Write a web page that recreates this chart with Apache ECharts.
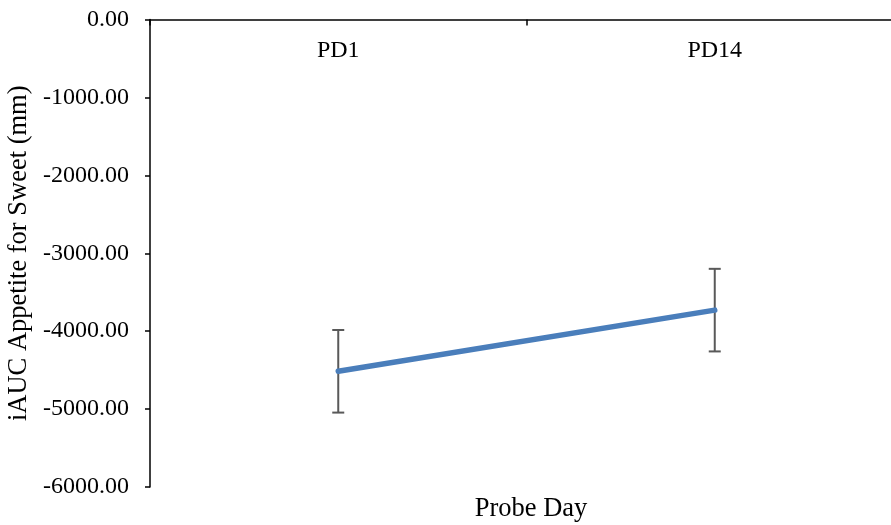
<!DOCTYPE html>
<html>
<head>
<meta charset="utf-8">
<script src="https://cdn.jsdelivr.net/npm/echarts@6/dist/echarts.min.js"></script>
<style>
  html, body { margin: 0; padding: 0; background: #ffffff; }
  #chart { width: 891px; height: 525px; }
</style>
</head>
<body>
<div id="chart"></div>
<script>
// Probe days and mean iAUC appetite for sweet with standard error
const categories = ['PD1', 'PD14'];
const meanValues = [-4515, -3730];
const errorValues = [530, 530];
const yTicks = { min: -6000, max: 0, step: 1000 };

const FONT = '"Liberation Serif", "Times New Roman", serif';

const chart = echarts.init(document.getElementById('chart'), null, { renderer: 'canvas' });

const errorData = categories.map((c, i) => [i, meanValues[i] - errorValues[i], meanValues[i] + errorValues[i]]);

chart.setOption({
  animation: false,
  backgroundColor: '#ffffff',
  grid: {
    left: 150, top: 19.5, width: 753, height: 467.5,
    containLabel: false, outerBoundsMode: 'none'
  },
  title: {
    text: 'Probe Day',
    left: 526, top: 491, textAlign: 'center',
    textStyle: { fontFamily: FONT, fontSize: 26.5, fontWeight: 'normal', color: '#000' }
  },
  xAxis: {
    type: 'category',
    position: 'top',
    data: categories,
    boundaryGap: true,
    axisLine: { show: true, onZero: false, lineStyle: { color: '#000', width: 1.5 } },
    axisTick: { show: true, inside: true, length: 6, lineStyle: { color: '#000', width: 1.5 } },
    axisLabel: { inside: true, margin: 19, fontFamily: FONT, fontSize: 24, color: '#000' },
    splitLine: { show: false }
  },
  yAxis: {
    type: 'value',
    min: yTicks.min, max: yTicks.max, interval: yTicks.step,
    name: 'iAUC Appetite for Sweet (mm)',
    nameLocation: 'middle',
    nameGap: 112,
    nameTextStyle: { fontFamily: FONT, fontSize: 26.5, color: '#000' },
    axisLine: { show: true, lineStyle: { color: '#000', width: 1.5 } },
    axisTick: { show: true, inside: false, length: 5, lineStyle: { color: '#000', width: 1.5 } },
    axisLabel: { margin: 21, fontFamily: FONT, fontSize: 24, color: '#000', formatter: v => v.toFixed(2) },
    splitLine: { show: false }
  },
  series: [
    {
      type: 'custom',
      name: 'error',
      z: 3,
      data: errorData,
      renderItem: function (params, api) {
        const x = api.value(0);
        const lo = api.coord([x, api.value(1)]);
        const hi = api.coord([x, api.value(2)]);
        const half = 6;
        const style = { stroke: '#595959', lineWidth: 2 };
        return {
          type: 'group',
          children: [
            { type: 'line', shape: { x1: lo[0], y1: lo[1], x2: hi[0], y2: hi[1] }, style },
            { type: 'line', shape: { x1: lo[0] - half, y1: lo[1], x2: lo[0] + half, y2: lo[1] }, style },
            { type: 'line', shape: { x1: hi[0] - half, y1: hi[1], x2: hi[0] + half, y2: hi[1] }, style }
          ]
        };
      }
    },
    {
      type: 'line',
      name: 'iAUC',
      z: 4,
      data: meanValues,
      symbol: 'none',
      lineStyle: { color: '#4a7ebb', width: 5.5, cap: 'round' }
    }
  ]
});
</script>
</body>
</html>
